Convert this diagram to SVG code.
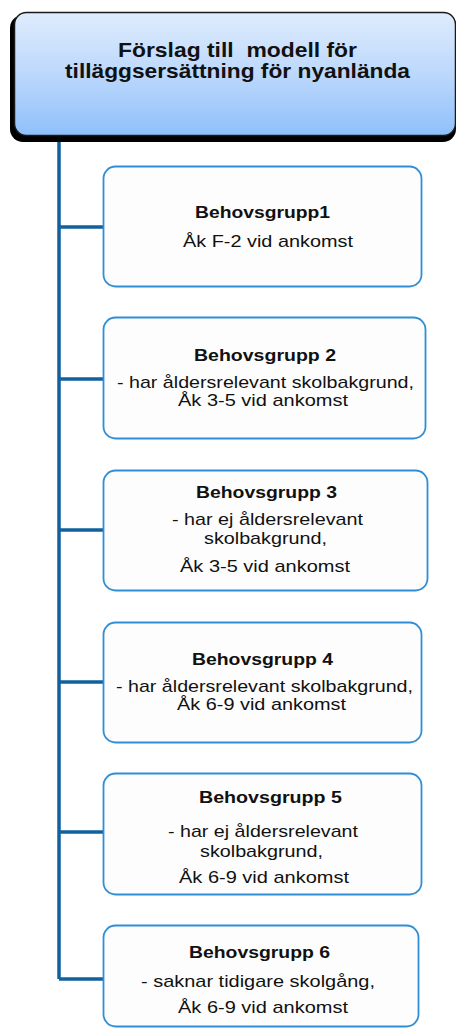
<svg xmlns="http://www.w3.org/2000/svg" width="456" height="1028" viewBox="0 0 456 1028">
<defs>
<linearGradient id="hdr" x1="0" y1="0" x2="0" y2="1">
<stop offset="0" stop-color="#dfecfc"/>
<stop offset="0.5" stop-color="#bcd8fc"/>
<stop offset="1" stop-color="#8fc0fb"/>
</linearGradient>
</defs>
<style>
.conn{stroke:#10629f;stroke-width:3.5;fill:none}
.box{fill:#fdfdfd;stroke:#2f8fd6;stroke-width:1.8}
.t{font-family:"Liberation Sans",Arial,sans-serif;font-size:17px;fill:#111;text-anchor:middle}
.b{font-weight:bold}
.h{font-family:"Liberation Sans",Arial,sans-serif;font-size:21px;font-weight:bold;fill:#111;text-anchor:middle;white-space:pre}
</style>
<rect width="456" height="1028" fill="#fff"/>
<g id="connectors">
<path class="conn" d="M59 138 V979"/>
<path class="conn" d="M59 227 H103"/>
<path class="conn" d="M59 379 H103"/>
<path class="conn" d="M59 530 H103"/>
<path class="conn" d="M59 682 H103"/>
<path class="conn" d="M59 832 H103"/>
<path class="conn" d="M59 979 H103"/>
</g>
<g id="header">
<rect x="10" y="15" width="446" height="127" rx="13" fill="#000"/>
<rect x="14.5" y="12.5" width="441" height="123" rx="12" fill="url(#hdr)" stroke="#1a1a1a" stroke-width="1.5"/>
<text class="h" x="237.5" y="57" textLength="239" lengthAdjust="spacingAndGlyphs" xml:space="preserve">Förslag till  modell för</text>
<text class="h" x="237.5" y="78" textLength="345" lengthAdjust="spacingAndGlyphs">tilläggsersättning för nyanlända</text>
</g>
<g id="grp1">
<rect class="box" x="103.5" y="166.5" width="318" height="120" rx="12"/>
<text class="t b" x="262.5" y="218" textLength="135" lengthAdjust="spacingAndGlyphs">Behovsgrupp1</text>
<text class="t" x="268" y="247" textLength="170" lengthAdjust="spacingAndGlyphs">Åk F-2 vid ankomst</text>
</g>
<g id="grp2">
<rect class="box" x="103.5" y="317.5" width="322" height="121" rx="12"/>
<text class="t b" x="265" y="361" textLength="142" lengthAdjust="spacingAndGlyphs">Behovsgrupp 2</text>
<text class="t" x="265.5" y="388" textLength="297" lengthAdjust="spacingAndGlyphs">- har åldersrelevant skolbakgrund,</text>
<text class="t" x="263" y="406" textLength="170" lengthAdjust="spacingAndGlyphs">Åk 3-5 vid ankomst</text>
</g>
<g id="grp3">
<rect class="box" x="103.5" y="470.5" width="324" height="120" rx="12"/>
<text class="t b" x="266.5" y="498" textLength="141" lengthAdjust="spacingAndGlyphs">Behovsgrupp 3</text>
<text class="t" x="267.5" y="525" textLength="191" lengthAdjust="spacingAndGlyphs">- har ej åldersrelevant</text>
<text class="t" x="265.5" y="544" textLength="123" lengthAdjust="spacingAndGlyphs">skolbakgrund,</text>
<text class="t" x="265" y="572" textLength="170" lengthAdjust="spacingAndGlyphs">Åk 3-5 vid ankomst</text>
</g>
<g id="grp4">
<rect class="box" x="103.5" y="622.5" width="318" height="120" rx="12"/>
<text class="t b" x="262.5" y="665" textLength="141" lengthAdjust="spacingAndGlyphs">Behovsgrupp 4</text>
<text class="t" x="264.5" y="692" textLength="297" lengthAdjust="spacingAndGlyphs">- har åldersrelevant skolbakgrund,</text>
<text class="t" x="261.5" y="710" textLength="169" lengthAdjust="spacingAndGlyphs">Åk 6-9 vid ankomst</text>
</g>
<g id="grp5">
<rect class="box" x="103.5" y="773.5" width="318" height="121" rx="12"/>
<text class="t b" x="270.5" y="803" textLength="143" lengthAdjust="spacingAndGlyphs">Behovsgrupp 5</text>
<text class="t" x="263" y="837" textLength="190" lengthAdjust="spacingAndGlyphs">- har ej åldersrelevant</text>
<text class="t" x="261.5" y="857" textLength="123" lengthAdjust="spacingAndGlyphs">skolbakgrund,</text>
<text class="t" x="264" y="883" textLength="170" lengthAdjust="spacingAndGlyphs">Åk 6-9 vid ankomst</text>
</g>
<g id="grp6">
<rect class="box" x="103.5" y="925.5" width="315" height="101" rx="12"/>
<text class="t b" x="259.5" y="958" textLength="141" lengthAdjust="spacingAndGlyphs">Behovsgrupp 6</text>
<text class="t" x="258" y="987" textLength="234" lengthAdjust="spacingAndGlyphs">- saknar tidigare skolgång,</text>
<text class="t" x="263" y="1013" textLength="170" lengthAdjust="spacingAndGlyphs">Åk 6-9 vid ankomst</text>
</g>
</svg>
